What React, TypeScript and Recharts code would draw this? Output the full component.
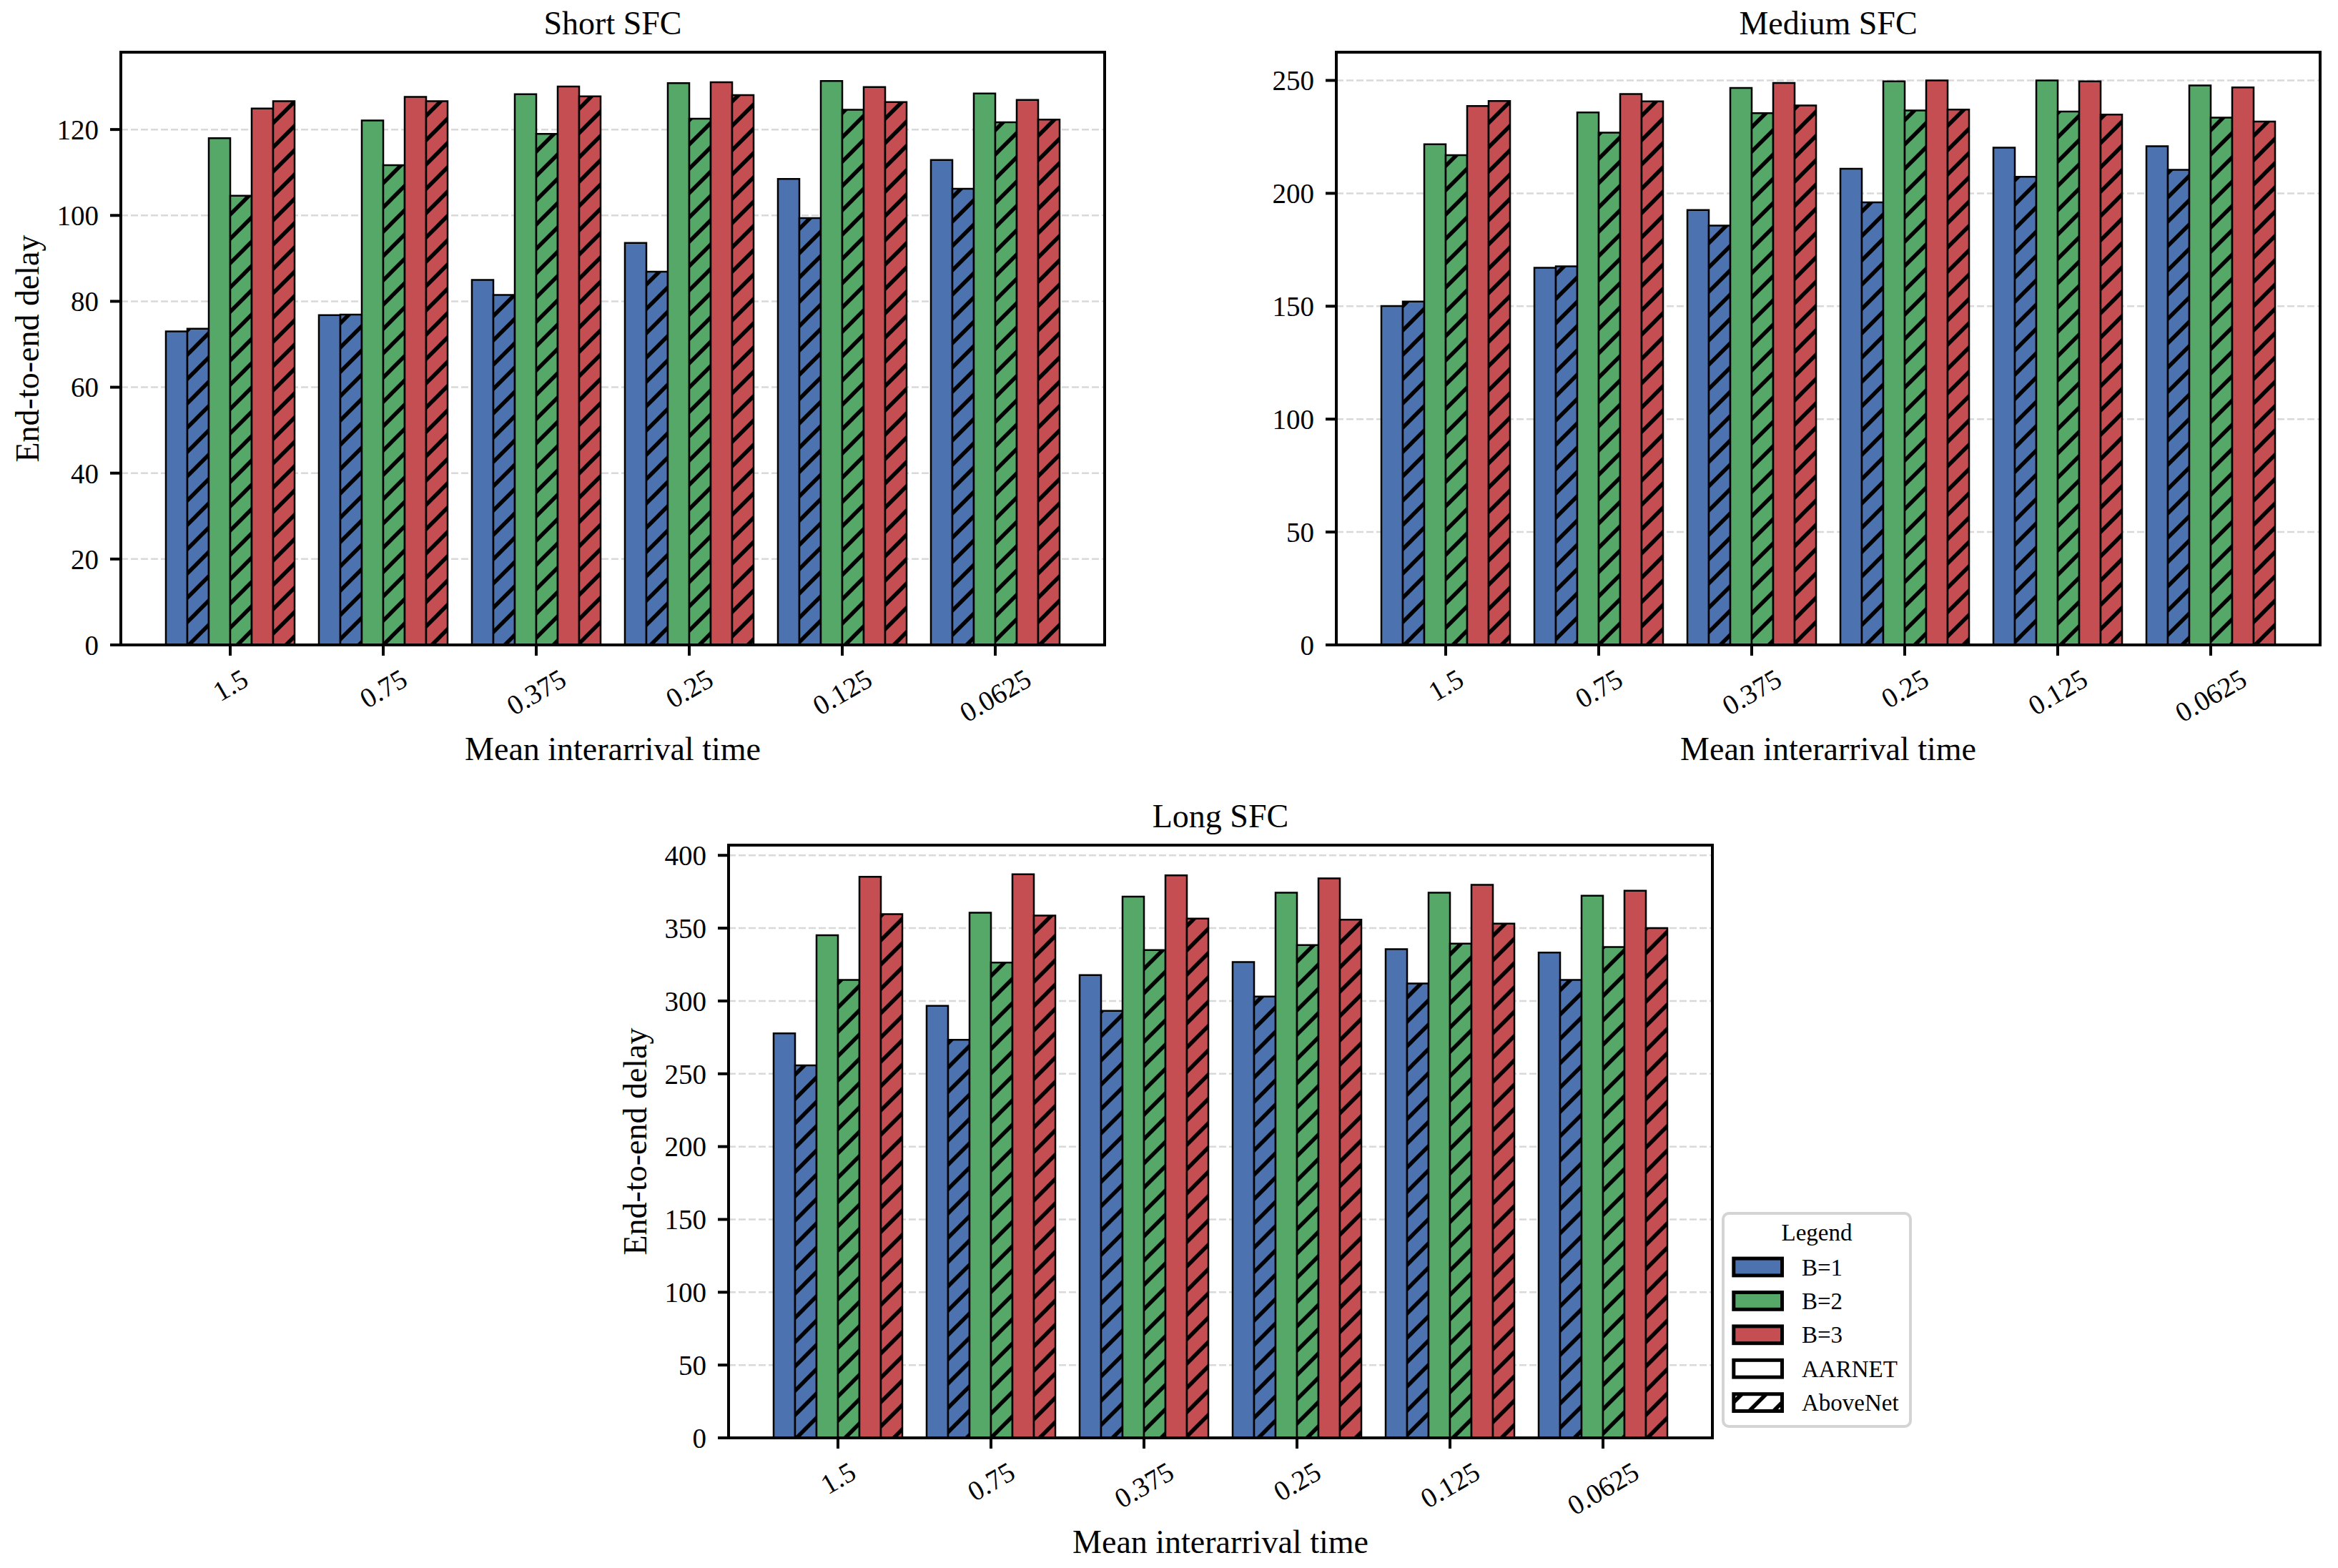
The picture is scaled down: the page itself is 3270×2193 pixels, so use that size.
import React from 'react';
import { BarChart, Bar, XAxis, YAxis, CartesianGrid } from 'recharts';

const FONT = "'Liberation Serif', 'DejaVu Serif', serif";

const BLUE = '#4C72B0';
const GREEN = '#55A868';
const RED = '#C44E52';

// mean interarrival time categories
const categories = ['1.5', '0.75', '0.375', '0.25', '0.125', '0.0625'];

// Short SFC
const shortB1Aarnet = [73.0, 76.8, 85.0, 93.6, 108.5, 112.9];
const shortB1Above = [73.6, 76.9, 81.5, 86.9, 99.4, 106.2];
const shortB2Aarnet = [118.0, 122.1, 128.2, 130.8, 131.3, 128.4];
const shortB2Above = [104.6, 111.7, 119.0, 122.5, 124.6, 121.7];
const shortB3Aarnet = [124.9, 127.6, 130.0, 131.0, 129.9, 126.9];
const shortB3Above = [126.6, 126.6, 127.7, 128.0, 126.4, 122.3];
const shortTicks = [0, 20, 40, 60, 80, 100, 120];

// Medium SFC
const mediumB1Aarnet = [150.1, 167.0, 192.6, 210.9, 220.2, 220.9];
const mediumB1Above = [152.1, 167.7, 185.7, 196.0, 207.3, 210.4];
const mediumB2Aarnet = [221.7, 235.8, 246.7, 249.6, 250.0, 247.8];
const mediumB2Above = [216.9, 226.9, 235.5, 236.7, 236.2, 233.5];
const mediumB3Aarnet = [238.7, 244.0, 248.9, 250.0, 249.6, 246.9];
const mediumB3Above = [240.9, 240.7, 238.9, 237.1, 234.9, 231.8];
const mediumTicks = [0, 50, 100, 150, 200, 250];

// Long SFC
const longB1Aarnet = [277.7, 296.6, 317.8, 326.7, 335.6, 333.2];
const longB1Above = [255.8, 273.3, 293.2, 303.1, 312.0, 314.4];
const longB2Aarnet = [345.2, 360.6, 371.6, 374.3, 374.3, 372.3];
const longB2Above = [314.4, 326.4, 334.9, 338.4, 339.4, 337.0];
const longB3Aarnet = [385.3, 387.0, 386.3, 384.2, 379.8, 375.7];
const longB3Above = [359.6, 358.6, 356.5, 355.8, 353.1, 350.0];
const longTicks = [0, 50, 100, 150, 200, 250, 300, 350, 400];

const legendItems = ['B=1', 'B=2', 'B=3', 'AARNET', 'AboveNet'];
const legendFills = [BLUE, GREEN, RED, '#ffffff', 'url(#hatch-white)'];

const SERIES = [
  { key: 'b1a', fill: BLUE },
  { key: 'b1h', fill: 'url(#hatch-blue)' },
  { key: 'b2a', fill: GREEN },
  { key: 'b2h', fill: 'url(#hatch-green)' },
  { key: 'b3a', fill: RED },
  { key: 'b3h', fill: 'url(#hatch-red)' },
];

function buildRows(series: number[][]) {
  return categories.map((cat, i) => {
    const row: any = { cat };
    SERIES.forEach((s, j) => {
      row[s.key] = series[j][i];
    });
    return row;
  });
}

const PLOT_W = 1376;
const PLOT_H = 829;
const TICK_FS = 39;
const LABEL_FS = 46;

function XTick(props: any) {
  const { x, y, payload } = props;
  const label = String(payload.value);
  const w = label.split('').reduce((s, c) => s + (c === '.' ? 0.25 : 0.5), 0) * TICK_FS;
  const bh = w * 0.5 + TICK_FS * 0.866;
  const cy = y + 12 + bh / 2;
  return (
    <text
      x={x}
      y={cy}
      textAnchor="middle"
      dominantBaseline="central"
      fontFamily={FONT}
      fontSize={TICK_FS}
      fill="#000"
      transform={`rotate(-30, ${x}, ${cy})`}
    >
      {label}
    </text>
  );
}

interface PanelProps {
  plotLeft: number;
  plotTop: number;
  rows: any[];
  domain: [number, number];
  ticks: number[];
}

function Panel({ plotLeft, plotTop, rows, domain, ticks }: PanelProps) {
  const padL = 200, padT = 100, padR = 100, padB = 200;
  const W = padL + PLOT_W + padR;
  const H = padT + PLOT_H + padB;
  const yW = 120, xH = 100;
  const spine = { stroke: '#000', strokeWidth: 4, strokeLinecap: 'square' as const };
  return (
    <div style={{ position: 'absolute', left: plotLeft - padL, top: plotTop - padT, width: W, height: H }}>
      <BarChart
        width={W}
        height={H}
        data={rows}
        margin={{ top: padT - 1, right: padR - 1, bottom: padB - xH, left: padL - yW }}
        barGap={0}
      >
        <CartesianGrid vertical={false} stroke="#d9d9d9" strokeDasharray="10 4" strokeWidth={2.5} />
        <XAxis
          dataKey="cat"
          interval={0}
          padding={{ left: 46, right: 46 }}
          height={xH}
          tickSize={15}
          tickMargin={0}
          tick={<XTick />}
          axisLine={spine}
          tickLine={{ stroke: '#000', strokeWidth: 4 }}
        />
        <XAxis xAxisId="top" orientation="top" dataKey="cat" height={1} tick={false} tickLine={false} axisLine={spine} />
        <YAxis
          type="number"
          domain={domain}
          ticks={ticks}
          allowDataOverflow
          width={yW}
          tickSize={15}
          tickMargin={16}
          tick={{ fontSize: TICK_FS, fill: '#000', fontFamily: FONT }}
          axisLine={spine}
          tickLine={{ stroke: '#000', strokeWidth: 4 }}
        />
        <YAxis
          yAxisId="right"
          orientation="right"
          type="number"
          domain={domain}
          width={1}
          tick={false}
          tickLine={false}
          axisLine={spine}
        />
        {SERIES.map((s) => (
          <Bar
            key={s.key}
            dataKey={s.key}
            fill={s.fill}
            stroke="#000"
            strokeWidth={2.5}
            barSize={30}
            isAnimationActive={false}
          />
        ))}
      </BarChart>
    </div>
  );
}

function Hatch({ id, color }: { id: string; color: string }) {
  return (
    <pattern id={id} patternUnits="userSpaceOnUse" width={34} height={34}>
      <rect width={34} height={34} fill={color} />
      <path d="M0,34 L34,0 M-17,17 L17,-17 M17,51 L51,17" stroke="#000" strokeWidth={5.5} />
    </pattern>
  );
}

const shortRows = buildRows([shortB1Aarnet, shortB1Above, shortB2Aarnet, shortB2Above, shortB3Aarnet, shortB3Above]);
const mediumRows = buildRows([mediumB1Aarnet, mediumB1Above, mediumB2Aarnet, mediumB2Above, mediumB3Aarnet, mediumB3Above]);
const longRows = buildRows([longB1Aarnet, longB1Above, longB2Aarnet, longB2Above, longB3Aarnet, longB3Above]);

const SHORT = { left: 169, top: 73 };
const MEDIUM = { left: 1869, top: 73 };
const LONG = { left: 1019, top: 1182 };

export default function App() {
  const textStyle = { fontFamily: FONT, fill: '#000' };
  const legendX = 2410, legendY = 1697;
  return (
    <div style={{ position: 'absolute', left: 0, top: 0, width: 3270, height: 2193, background: '#fff', overflow: 'hidden' }}>
      <svg width={0} height={0} style={{ position: 'absolute' }}>
        <defs>
          <Hatch id="hatch-blue" color={BLUE} />
          <Hatch id="hatch-green" color={GREEN} />
          <Hatch id="hatch-red" color={RED} />
          <Hatch id="hatch-white" color="#ffffff" />
        </defs>
      </svg>

      <Panel plotLeft={SHORT.left} plotTop={SHORT.top} rows={shortRows} domain={[0, 138]} ticks={shortTicks} />
      <Panel plotLeft={MEDIUM.left} plotTop={MEDIUM.top} rows={mediumRows} domain={[0, 262.5]} ticks={mediumTicks} />
      <Panel plotLeft={LONG.left} plotTop={LONG.top} rows={longRows} domain={[0, 407]} ticks={longTicks} />

      <svg width={3270} height={2193} style={{ position: 'absolute', left: 0, top: 0, pointerEvents: 'none' }}>
        {/* titles */}
        <text x={SHORT.left + PLOT_W / 2} y={SHORT.top - 25} textAnchor="middle" fontSize={LABEL_FS} {...textStyle}>Short SFC</text>
        <text x={MEDIUM.left + PLOT_W / 2} y={MEDIUM.top - 25} textAnchor="middle" fontSize={LABEL_FS} {...textStyle}>Medium SFC</text>
        <text x={LONG.left + PLOT_W / 2} y={LONG.top - 25} textAnchor="middle" fontSize={LABEL_FS} {...textStyle}>Long SFC</text>

        {/* x labels */}
        <text x={SHORT.left + PLOT_W / 2} y={SHORT.top + PLOT_H + 161} textAnchor="middle" fontSize={LABEL_FS} {...textStyle}>Mean interarrival time</text>
        <text x={MEDIUM.left + PLOT_W / 2} y={MEDIUM.top + PLOT_H + 161} textAnchor="middle" fontSize={LABEL_FS} {...textStyle}>Mean interarrival time</text>
        <text x={LONG.left + PLOT_W / 2} y={LONG.top + PLOT_H + 161} textAnchor="middle" fontSize={LABEL_FS} {...textStyle}>Mean interarrival time</text>

        {/* y labels */}
        <text
          x={SHORT.left - 131}
          y={SHORT.top + PLOT_H / 2}
          textAnchor="middle"
          dominantBaseline="central"
          fontSize={LABEL_FS}
          transform={`rotate(-90, ${SHORT.left - 131}, ${SHORT.top + PLOT_H / 2})`}
          {...textStyle}
        >
          End-to-end delay
        </text>
        <text
          x={LONG.left - 131}
          y={LONG.top + PLOT_H / 2}
          textAnchor="middle"
          dominantBaseline="central"
          fontSize={LABEL_FS}
          transform={`rotate(-90, ${LONG.left - 131}, ${LONG.top + PLOT_H / 2})`}
          {...textStyle}
        >
          End-to-end delay
        </text>

        {/* legend */}
        <rect x={legendX} y={legendY} width={262} height={298} rx={8} fill="#fff" stroke="#d4d4d4" strokeWidth={4} />
        <text x={legendX + 131} y={legendY + 38} textAnchor="middle" fontSize={33} {...textStyle}>Legend</text>
        {legendItems.map((name, i) => {
          const cy = legendY + 75 + i * 47.4;
          return (
            <g key={name}>
              <rect x={2424.8} y={cy - 11.9} width={67.7} height={23.8} fill={legendFills[i]} stroke="#000" strokeWidth={5} />
              <text x={2520} y={cy + 11.5} fontSize={33} {...textStyle}>{name}</text>
            </g>
          );
        })}
      </svg>
    </div>
  );
}
